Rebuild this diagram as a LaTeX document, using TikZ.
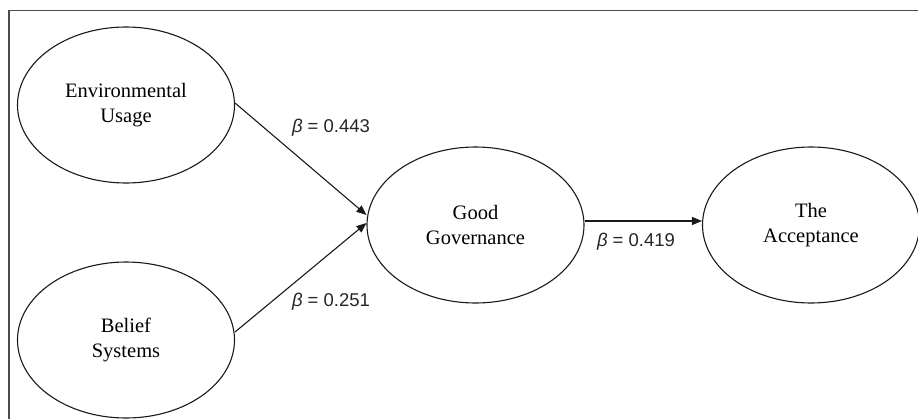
\documentclass[tikz,border=0pt]{standalone}
\usepackage{fontspec}
\setmainfont{Liberation Serif}
\newfontfamily\labelfont{Liberation Sans}
\usetikzlibrary{shapes.geometric,arrows.meta}
\tikzset{
  construct/.style={draw=black!90, line width=1.1pt, ellipse, minimum width=217pt, minimum height=156pt, inner sep=0pt, align=center, font=\fontsize{20.5pt}{25pt}\selectfont},
  path arrow/.style={draw=black!90, line width=1.1pt, -{Triangle[length=10pt,width=8pt]}},
  coef/.style={font=\labelfont\fontsize{18.5pt}{22pt}\selectfont, text=black!85, inner sep=0pt},
  frame/.style={draw=black!70, line width=1.6pt}
}
\begin{document}
\begin{tikzpicture}[x=1pt,y=-1pt]
\useasboundingbox (0,0) rectangle (918,418);
\draw[frame] (9,420) -- (9,10.5) -- (920,10.5);
\node[construct] (e1) at (126,105) {Environmental\\Usage};
\node[construct] (e2) at (126,340) {Belief\\Systems};
\node[construct] (gg) at (475.5,225) {Good\\Governance};
\node[construct] (ta) at (811,225) {The\\Acceptance};
\draw[path arrow] ([yshift=2pt]e1.east) -- ([yshift=10pt]gg.west);
\draw[path arrow] ([yshift=8pt]e2.east) -- ([yshift=2pt]gg.west);
\draw[path arrow] ([yshift=4pt]gg.east) -- ([yshift=4pt]ta.west);
\node[coef] (l1) at (331,128) {{\itshape β} = 0.443};
\node[coef] (l2) at (331,302) {{\itshape β} = 0.251};
\node[coef] (l3) at (636,242) {{\itshape β} = 0.419};
\end{tikzpicture}
\end{document}
